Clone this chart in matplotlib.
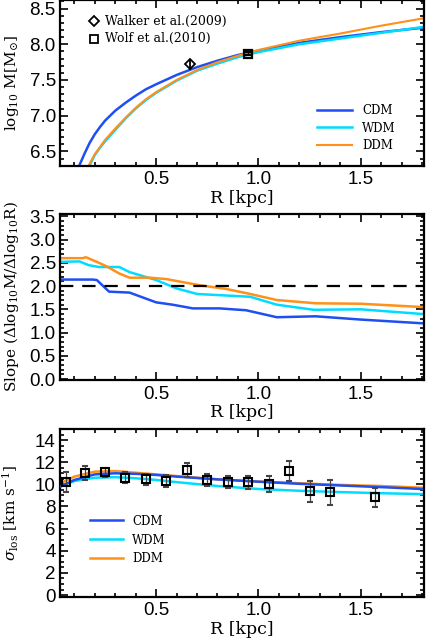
import numpy as np
import matplotlib
matplotlib.use('Agg')
import matplotlib.pyplot as plt
from matplotlib.ticker import MultipleLocator

plt.rcParams['mathtext.fontset'] = 'dejavuserif'

C_CDM = '#1f4ff0'
C_WDM = '#00dcff'
C_DDM = '#ff9018'

# --- panel 1: enclosed mass profiles
r_cdm_m = [0.11, 0.124, 0.15, 0.175, 0.2, 0.225, 0.25, 0.3, 0.35, 0.4, 0.45, 0.5, 0.6, 0.7, 0.8, 0.9, 1.0, 1.2, 1.4, 1.6, 1.8]
m_cdm = [6.20, 6.30, 6.47, 6.62, 6.74, 6.84, 6.93, 7.07, 7.18, 7.28, 7.37, 7.44, 7.57, 7.68, 7.77, 7.85, 7.91, 8.02, 8.10, 8.17, 8.23]
r_wdm_m = [0.16, 0.174, 0.2, 0.225, 0.25, 0.3, 0.35, 0.4, 0.45, 0.5, 0.6, 0.7, 0.8, 0.9, 1.0, 1.2, 1.4, 1.6, 1.8]
m_wdm = [6.20, 6.30, 6.45, 6.55, 6.64, 6.80, 6.96, 7.10, 7.22, 7.32, 7.49, 7.63, 7.73, 7.82, 7.89, 8.00, 8.08, 8.16, 8.24]
r_ddm_m = [0.157, 0.17, 0.2, 0.225, 0.25, 0.3, 0.35, 0.4, 0.45, 0.5, 0.6, 0.7, 0.8, 0.9, 1.0, 1.2, 1.4, 1.6, 1.8]
m_ddm = [6.20, 6.30, 6.46, 6.56, 6.66, 6.82, 6.97, 7.11, 7.23, 7.33, 7.50, 7.64, 7.75, 7.84, 7.92, 8.05, 8.15, 8.26, 8.36]

walker_r, walker_m, walker_err = 0.667, 7.72, 0.08
wolf_r, wolf_m, wolf_err = 0.95, 7.87, 0.02

# --- panel 2: logarithmic slope
r_slope_cdm = [0.02, 0.19, 0.21, 0.27, 0.37, 0.5, 0.58, 0.68, 0.81, 0.94, 1.09, 1.28, 1.5, 1.8]
s_cdm = [2.14, 2.14, 2.13, 1.88, 1.86, 1.65, 1.60, 1.52, 1.52, 1.48, 1.33, 1.35, 1.28, 1.20]
r_slope_wdm = [0.02, 0.125, 0.17, 0.22, 0.32, 0.37, 0.5, 0.6, 0.7, 0.96, 1.09, 1.27, 1.5, 1.8]
s_wdm = [2.52, 2.53, 2.45, 2.41, 2.41, 2.30, 2.13, 1.95, 1.83, 1.77, 1.60, 1.49, 1.50, 1.40]
r_slope_ddm = [0.02, 0.14, 0.157, 0.21, 0.255, 0.32, 0.37, 0.47, 0.55, 0.71, 0.84, 0.96, 1.09, 1.28, 1.5, 1.8]
s_ddm = [2.60, 2.60, 2.62, 2.52, 2.43, 2.27, 2.18, 2.18, 2.15, 2.02, 1.94, 1.83, 1.70, 1.63, 1.62, 1.55]

# --- panel 3: velocity dispersion
r_sig = [0.02, 0.1, 0.2, 0.3, 0.4, 0.5, 0.6, 0.8, 1.0, 1.2, 1.4, 1.6, 1.8]
sig_cdm = [9.70, 10.40, 10.90, 11.00, 10.95, 10.85, 10.70, 10.45, 10.24, 10.05, 9.90, 9.75, 9.58]
sig_wdm = [9.75, 10.30, 10.60, 10.65, 10.55, 10.40, 10.20, 9.85, 9.58, 9.42, 9.30, 9.20, 9.12]
sig_ddm = [10.00, 10.70, 11.15, 11.20, 11.05, 10.90, 10.75, 10.45, 10.25, 10.10, 9.95, 9.85, 9.70]

obs_r = [0.06, 0.15, 0.25, 0.35, 0.45, 0.55, 0.65, 0.75, 0.85, 0.95, 1.05, 1.15, 1.25, 1.35, 1.57]
obs_sig = [10.18, 11.03, 11.09, 10.58, 10.48, 10.27, 11.30, 10.42, 10.24, 10.18, 10.03, 11.18, 9.39, 9.27, 8.82]
obs_err = [0.90, 0.60, 0.40, 0.50, 0.50, 0.55, 0.60, 0.55, 0.55, 0.60, 0.75, 0.90, 0.95, 1.10, 0.85]

XLIM = (0.03, 1.81)
SERIF = 'DejaVu Serif'
LEG_PROP = {'family': SERIF, 'size': 8.5}


def style_axes(ax, ymajor, yminor):
    ax.set_xlim(*XLIM)
    ax.xaxis.set_major_locator(MultipleLocator(0.5))
    ax.xaxis.set_minor_locator(MultipleLocator(0.1))
    ax.yaxis.set_major_locator(MultipleLocator(ymajor))
    ax.yaxis.set_minor_locator(MultipleLocator(yminor))
    ax.tick_params(which='both', direction='in', top=True, right=True, width=1.2)
    ax.tick_params(which='major', length=6, labelsize=13.5)
    ax.tick_params(axis='x', which='major', pad=4)
    ax.tick_params(axis='y', which='major', pad=3)
    ax.tick_params(which='minor', length=3)
    for lab in ax.get_xticklabels() + ax.get_yticklabels():
        lab.set_family('Liberation Sans')
    for sp in ax.spines.values():
        sp.set_linewidth(1.6)
    ax.set_xlabel('R [kpc]', family=SERIF, fontsize=12.5, labelpad=1)
    ax.yaxis.set_label_coords(-0.107, 0.5)


fig = plt.figure(figsize=(4.29, 6.43), dpi=100)

# panel 1
ax1 = fig.add_axes([0.1399, 0.7423, 0.8485, 0.2577])
ax1.plot(r_cdm_m, m_cdm, color=C_CDM, lw=1.8, label='CDM')
ax1.plot(r_wdm_m, m_wdm, color=C_WDM, lw=1.8, label='WDM')
ax1.plot(r_ddm_m, m_ddm, color=C_DDM, lw=1.5, label='DDM')
ax1.errorbar([walker_r], [walker_m], yerr=[walker_err], fmt='D', mfc='none', mec='k',
             ecolor='k', mew=1.3, ms=5, capsize=0, elinewidth=1.3)
ax1.errorbar([wolf_r], [wolf_m], yerr=[wolf_err], fmt='s', mfc='none', mec='k',
             ecolor='k', mew=1.6, ms=6, capsize=2, elinewidth=1.0)
ax1.set_ylim(6.3, 8.62)
style_axes(ax1, 0.5, 0.1)
ax1.set_ylabel(r'log$_{10}$ M[M$_{\odot}$]', family=SERIF, fontsize=11)
ax1.plot([0.195], [8.32], marker='D', mfc='none', mec='k', mew=1.3, ms=5, ls='none')
ax1.plot([0.195], [8.08], marker='s', mfc='none', mec='k', mew=1.3, ms=6, ls='none')
ax1.text(0.25, 8.32, 'Walker et al.(2009)', family=SERIF, fontsize=9, va='center')
ax1.text(0.25, 8.08, 'Wolf et al.(2010)', family=SERIF, fontsize=9, va='center')
ax1.legend(loc='center left', bbox_to_anchor=(0.677, 0.2275), frameon=False, handlelength=3.0,
           prop=LEG_PROP, labelspacing=0.4)

# panel 2
ax2 = fig.add_axes([0.1399, 0.4090, 0.8485, 0.2582])
ax2.plot(r_slope_cdm, s_cdm, color=C_CDM, lw=1.8)
ax2.plot(r_slope_wdm, s_wdm, color=C_WDM, lw=1.8)
ax2.plot(r_slope_ddm, s_ddm, color=C_DDM, lw=1.8)
ax2.axhline(2.0, color='k', lw=1.6, ls=(0, (6, 4)))
ax2.set_ylim(-0.02, 3.55)
style_axes(ax2, 0.5, 0.1)
ax2.set_ylabel(r'Slope ($\Delta$log$_{10}$M/$\Delta$log$_{10}$R)', family=SERIF, fontsize=11)

# panel 3
ax3 = fig.add_axes([0.1399, 0.0720, 0.8485, 0.2608])
ax3.plot(r_sig, sig_cdm, color=C_CDM, lw=1.8, label='CDM', zorder=3)
ax3.plot(r_sig, sig_wdm, color=C_WDM, lw=1.8, label='WDM', zorder=2)
ax3.plot(r_sig, sig_ddm, color=C_DDM, lw=1.8, label='DDM', zorder=2)
ax3.errorbar(obs_r, obs_sig, yerr=obs_err, fmt='s', mfc='none', mec='k', mew=1.5, ms=6,
             ecolor='#444444', elinewidth=0.9, capsize=2, zorder=4)
ax3.set_ylim(-0.15, 15)
style_axes(ax3, 2, 0.5)
ax3.set_ylabel(r'$\sigma_{\rm los}$ [km s$^{-1}$]', family=SERIF, fontsize=11)
ax3.legend(loc='center left', bbox_to_anchor=(0.053, 0.338), frameon=False, handlelength=2.8,
           prop=LEG_PROP, labelspacing=0.5)

fig.savefig('out.png', dpi=100)
